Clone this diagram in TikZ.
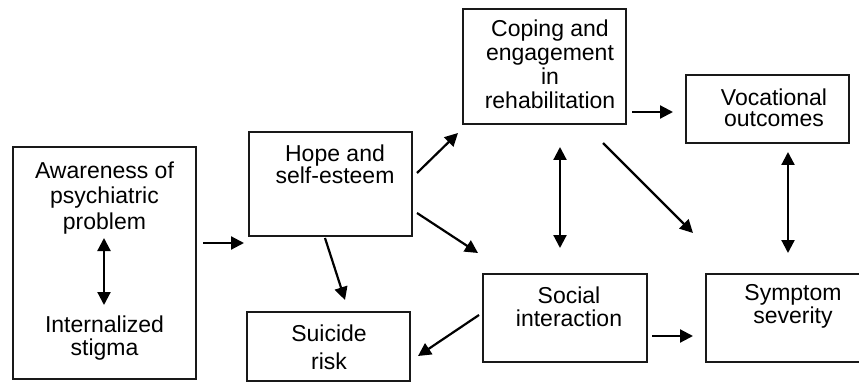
\documentclass[tikz,border=0pt]{standalone}
\usepackage{fontspec}
\setmainfont{Liberation Sans}
\usetikzlibrary{arrows.meta}
\tikzset{
  box/.style={draw=black!90, line width=1.8pt, rectangle, inner sep=0pt},
  txt/.style={align=center, inner sep=0pt, font=\fontsize{23}{#1}\selectfont},
  txt/.default=24,
  conn/.style={line width=2.2pt, -{Triangle[length=13pt,width=13pt]}},
  dconn/.style={line width=2.2pt, {Triangle[length=13pt,width=13pt]}-{Triangle[length=13pt,width=13pt]}}
}
\begin{document}
\begin{tikzpicture}[x=1pt,y=-1pt]
\useasboundingbox (0,0) rectangle (859,382);
\clip (0,0) rectangle (859,382);
% boxes
\node[box, minimum width=183pt, minimum height=232pt] (aware) at (104.5,263) {};
\node[box, minimum width=163pt, minimum height=104pt] (hope) at (330.5,184) {};
\node[box, minimum width=163pt, minimum height=69pt] (suic) at (328.5,346.5) {};
\node[box, minimum width=163pt, minimum height=115pt] (coping) at (544.5,66.5) {};
\node[box, minimum width=163pt, minimum height=68pt] (voc) at (767.5,109) {};
\node[box, minimum width=164pt, minimum height=88pt] (social) at (565,318) {};
\node[box, minimum width=160pt, minimum height=88pt] (sympt) at (786,318) {};
% texts
\node[txt=25.5] (tAware) at (104.5,198) {Awareness of\\psychiatric\\problem};
\node[txt=23] (tStig) at (104.5,338.5) {Internalized\\stigma};
\node[txt=22] (tHope) at (335,164) {Hope and\\self-esteem};
\node[txt=28] (tSuic) at (329,347) {Suicide\\risk};
\node[txt=24] (tCop) at (550,64.5) {Coping and\\engagement\\in\\rehabilitation};
\node[txt=21] (tVoc) at (774,107.5) {Vocational\\outcomes};
\node[txt=23] (tSoc) at (569,306.5) {Social\\interaction};
\node[txt=23] (tSym) at (793,306.5) {Symptom\\severity};
% connector end points
\coordinate (a1) at (203,243); \coordinate (a2) at (244,243);
\coordinate (b1) at (325,238); \coordinate (b2) at (345,300);
\coordinate (c1) at (417,173); \coordinate (c2) at (458,133);
\coordinate (d1) at (417,213); \coordinate (d2) at (478,253);
\coordinate (e1) at (560,147); \coordinate (e2) at (560,248);
\coordinate (f1) at (632,112); \coordinate (f2) at (673,112);
\coordinate (g1) at (603,143); \coordinate (g2) at (693,233);
\coordinate (h1) at (788,152); \coordinate (h2) at (788,253);
\coordinate (i1) at (479,315); \coordinate (i2) at (418,356);
\coordinate (j1) at (652,336); \coordinate (j2) at (693,336);
\coordinate (k1) at (104,238); \coordinate (k2) at (104,305);
% connectors
\draw[conn] (a1) -- (a2);
\draw[conn] (b1) -- (b2);
\draw[conn] (c1) -- (c2);
\draw[conn] (d1) -- (d2);
\draw[dconn] (e1) -- (e2);
\draw[conn] (f1) -- (f2);
\draw[conn] (g1) -- (g2);
\draw[dconn] (h1) -- (h2);
\draw[conn] (i1) -- (i2);
\draw[conn] (j1) -- (j2);
\draw[dconn] (k1) -- (k2);
\end{tikzpicture}
\end{document}
